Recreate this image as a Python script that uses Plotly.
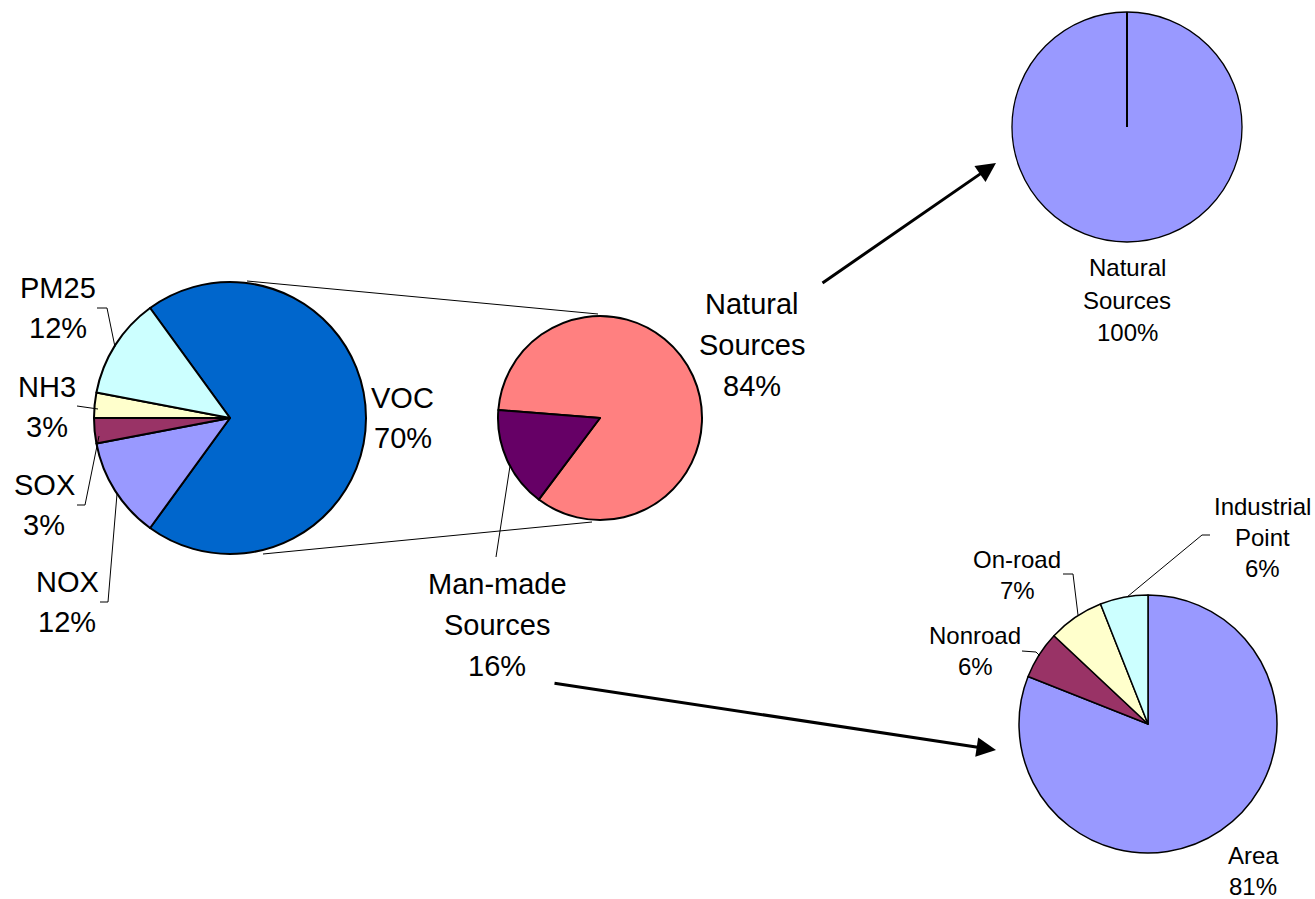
import plotly.graph_objects as go

W, H = 1315, 899

# ---------------- data ----------------
pollutants = ["VOC", "NOX", "SOX", "NH3", "PM25"]
pollutant_pct = [70, 12, 3, 3, 12]
pollutant_colors = ["#0066CC", "#9999FF", "#993366", "#FFFFCC", "#CCFFFF"]

voc_sources = ["Natural Sources", "Man-made Sources"]
voc_source_pct = [84, 16]
voc_source_colors = ["#FF8080", "#660066"]

natural_sources = ["Natural Sources"]
natural_pct = [100]
natural_colors = ["#9999FF"]

manmade_sectors = ["Area", "Nonroad", "On-road", "Industrial Point"]
manmade_pct = [81, 6, 7, 6]
manmade_colors = ["#9999FF", "#993366", "#FFFFCC", "#CCFFFF"]

# ---------------- layout helpers (pixel -> paper) ----------------
def px(x):
    return x / W


def py(y):
    return 1 - y / H


def domain(cx, cy, r):
    return dict(x=[px(cx - r), px(cx + r)], y=[py(cy + r), py(cy - r)])


FONT = "Liberation Sans, Arial, sans-serif"

fig = go.Figure()

pies = [
    # (labels, values, colors, center x, center y, radius, rotation, line width)
    (pollutants, pollutant_pct, pollutant_colors, 230, 418, 136, -36, 2),
    (voc_sources, voc_source_pct, voc_source_colors, 600, 418, 102, -85.5, 2),
    (natural_sources, natural_pct, natural_colors, 1127, 127, 115, 0, 1.3),
    (manmade_sectors, manmade_pct, manmade_colors, 1148, 724, 129, 0, 1.5),
]

for labels, vals, cols, cx, cy, r, rot, lw in pies:
    fig.add_trace(go.Pie(
        labels=labels, values=vals, sort=False, direction="clockwise",
        rotation=rot, textinfo="none", hoverinfo="label+percent",
        marker=dict(colors=cols, line=dict(color="black", width=lw)),
        domain=domain(cx, cy, r), showlegend=False,
    ))

# radial line in the 100% pie (slice boundary at 12 o'clock)
fig.add_shape(type="line", xref="paper", yref="paper",
              x0=px(1127), y0=py(127), x1=px(1127), y1=py(12),
              line=dict(color="black", width=2))


# ---------------- labels ----------------
def add_label(name, pct, x, yc, fs, spacing):
    lines = name.split(" ") + [f"{pct}%"]
    n = len(lines)
    for i, t in enumerate(lines):
        y = yc + (i - (n - 1) / 2) * spacing
        fig.add_annotation(x=px(x), y=py(y), xref="paper", yref="paper",
                           text=t, showarrow=False,
                           xanchor="center", yanchor="middle",
                           font=dict(family=FONT, size=fs, color="black"))


label_pos = {
    "PM25": (58, 308), "NH3": (47, 407), "SOX": (44, 505),
    "NOX": (67, 602), "VOC": (403, 418),
}
for name, pct in zip(pollutants, pollutant_pct):
    x, y = label_pos[name]
    add_label(name, pct, x, y, 29, 40)

src_pos = {"Natural Sources": (752, 345), "Man-made Sources": (497, 625)}
for name, pct in zip(voc_sources, voc_source_pct):
    x, y = src_pos[name]
    add_label(name, pct, x, y, 29, 41)

for name, pct in zip(natural_sources, natural_pct):
    add_label(name, pct, 1127, 300, 24, 32.5)

sector_pos = {"Area": (1253, 871), "Nonroad": (975, 651),
              "On-road": (1017, 575), "Industrial Point": (1262, 537)}
for name, pct in zip(manmade_sectors, manmade_pct):
    x, y = sector_pos[name]
    add_label(name, pct, x, y, 24, 31)


# ---------------- leader lines & connectors ----------------
def path(points):
    return "M " + " L ".join(f"{px(x)},{py(y)}" for x, y in points)


leaders = [
    [(97, 308), (107, 308), (115, 347)],          # PM25
    [(77, 406), (98, 409)],                        # NH3
    [(77, 505), (85, 505), (99, 436)],             # SOX
    [(100, 602), (108, 602), (117, 494)],          # NOX
    [(510, 466), (496, 557)],                      # Man-made
    [(1210, 535), (1202, 535), (1127, 597)],       # Industrial Point
    [(1063, 574), (1073, 574), (1078, 615)],       # On-road
    [(1022, 651), (1036, 652), (1040, 656)],       # Nonroad
    [(247, 281), (598, 314)],                      # connector top
    [(263, 554), (592, 522)],                      # connector bottom
]
for pts in leaders:
    fig.add_shape(type="path", xref="paper", yref="paper", path=path(pts),
                  line=dict(color="black", width=1))

# ---------------- arrows ----------------
arrows = [((821, 284), (996, 163)), ((553, 683), (996, 750))]
for (tx, ty), (hx, hy) in arrows:
    fig.add_annotation(x=px(hx), y=py(hy), xref="paper", yref="paper",
                       ax=tx - hx, ay=ty - hy, axref="pixel", ayref="pixel",
                       text="", showarrow=True, arrowhead=2, arrowsize=1.3,
                       arrowwidth=3, arrowcolor="black", standoff=0)

fig.update_layout(
    width=W, height=H, margin=dict(l=0, r=0, t=0, b=0),
    paper_bgcolor="white", plot_bgcolor="white",
    font=dict(family=FONT, color="black"),
)

fig.write_html(
    "out.html",
    config={"displayModeBar": False},
    post_script="document.body.style.margin='0';"
                "document.body.style.overflow='hidden';",
)
